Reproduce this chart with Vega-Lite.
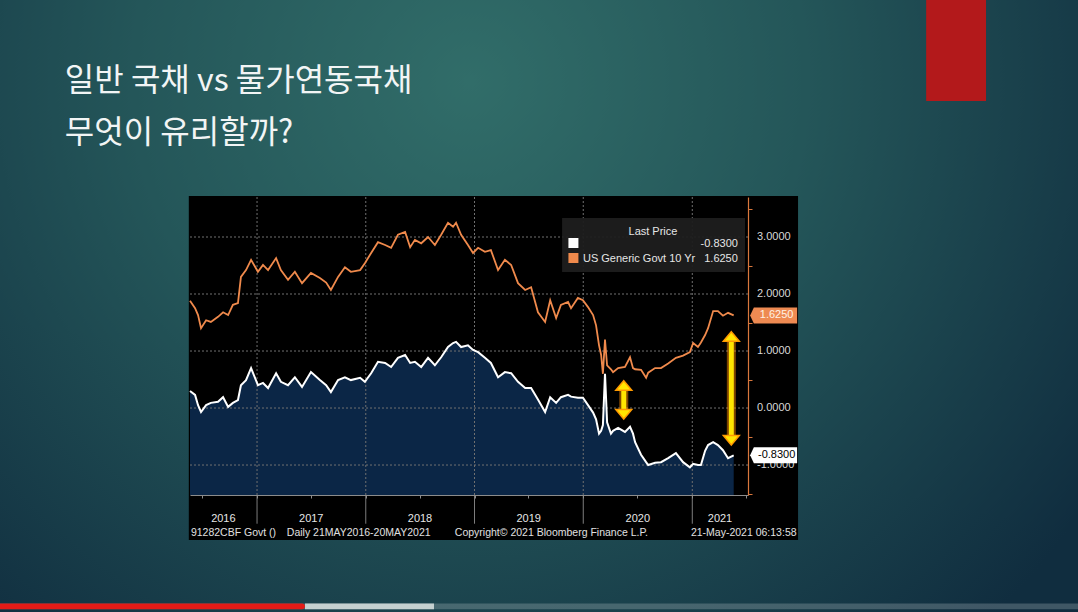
{
"$schema": "https://vega.github.io/schema/vega-lite/v6.json",
"width": 558, "height": 298,
"autosize": {"type": "none"},
"padding": {"left": 190, "top": 197, "right": 330, "bottom": 117},
"background": "#1b4651",
"config": {"view": {"stroke": null}, "font": "Liberation Sans", "axis": {"zindex": 1, "grid": false}},
"datasets": {
"rates": [
{"date":"2016-05-21","nominal":1.88,"real":0.30},
{"date":"2016-06-07","nominal":1.75,"real":0.23},
{"date":"2016-06-17","nominal":1.63,"real":0.05},
{"date":"2016-06-27","nominal":1.40,"real":-0.07},
{"date":"2016-07-14","nominal":1.54,"real":0.05},
{"date":"2016-07-30","nominal":1.51,"real":0.09},
{"date":"2016-08-23","nominal":1.60,"real":0.11},
{"date":"2016-09-09","nominal":1.68,"real":0.19},
{"date":"2016-09-26","nominal":1.63,"real":0.02},
{"date":"2016-10-12","nominal":1.81,"real":0.09},
{"date":"2016-10-29","nominal":1.84,"real":0.14},
{"date":"2016-11-08","nominal":2.30,"real":0.40},
{"date":"2016-11-25","nominal":2.42,"real":0.49},
{"date":"2016-12-12","nominal":2.60,"real":0.70},
{"date":"2017-01-04","nominal":2.39,"real":0.40},
{"date":"2017-01-21","nominal":2.51,"real":0.44},
{"date":"2017-02-07","nominal":2.42,"real":0.35},
{"date":"2017-03-06","nominal":2.63,"real":0.61},
{"date":"2017-03-22","nominal":2.42,"real":0.46},
{"date":"2017-04-15","nominal":2.25,"real":0.40},
{"date":"2017-05-08","nominal":2.39,"real":0.54},
{"date":"2017-06-01","nominal":2.19,"real":0.37},
{"date":"2017-07-01","nominal":2.37,"real":0.63},
{"date":"2017-07-31","nominal":2.28,"real":0.49},
{"date":"2017-08-21","nominal":2.20,"real":0.40},
{"date":"2017-09-06","nominal":2.07,"real":0.28},
{"date":"2017-09-30","nominal":2.30,"real":0.49},
{"date":"2017-10-23","nominal":2.47,"real":0.54},
{"date":"2017-11-12","nominal":2.39,"real":0.49},
{"date":"2017-12-13","nominal":2.42,"real":0.53},
{"date":"2017-12-29","nominal":2.54,"real":0.46},
{"date":"2018-01-19","nominal":2.72,"real":0.61},
{"date":"2018-02-11","nominal":2.91,"real":0.81},
{"date":"2018-03-07","nominal":2.86,"real":0.79},
{"date":"2018-03-27","nominal":2.81,"real":0.72},
{"date":"2018-04-19","nominal":3.04,"real":0.88},
{"date":"2018-05-13","nominal":3.09,"real":0.93},
{"date":"2018-05-30","nominal":2.82,"real":0.79},
{"date":"2018-06-15","nominal":2.95,"real":0.81},
{"date":"2018-07-06","nominal":2.89,"real":0.72},
{"date":"2018-07-29","nominal":3.00,"real":0.88},
{"date":"2018-08-21","nominal":2.86,"real":0.75},
{"date":"2018-09-11","nominal":3.04,"real":0.89},
{"date":"2018-10-04","nominal":3.25,"real":1.07},
{"date":"2018-10-21","nominal":3.18,"real":1.14},
{"date":"2018-10-31","nominal":3.25,"real":1.16},
{"date":"2018-11-17","nominal":3.04,"real":1.07},
{"date":"2018-12-10","nominal":2.86,"real":1.10},
{"date":"2018-12-27","nominal":2.72,"real":1.02},
{"date":"2019-01-13","nominal":2.81,"real":0.98},
{"date":"2019-02-05","nominal":2.74,"real":0.88},
{"date":"2019-02-25","nominal":2.77,"real":0.79},
{"date":"2019-03-21","nominal":2.42,"real":0.54},
{"date":"2019-04-13","nominal":2.60,"real":0.63},
{"date":"2019-05-04","nominal":2.51,"real":0.61},
{"date":"2019-05-27","nominal":2.19,"real":0.46},
{"date":"2019-06-20","nominal":2.07,"real":0.35},
{"date":"2019-07-10","nominal":2.12,"real":0.35},
{"date":"2019-08-02","nominal":1.68,"real":0.15},
{"date":"2019-08-26","nominal":1.51,"real":-0.07},
{"date":"2019-09-12","nominal":1.89,"real":0.19},
{"date":"2019-10-02","nominal":1.58,"real":0.09},
{"date":"2019-10-18","nominal":1.81,"real":0.19},
{"date":"2019-11-11","nominal":1.86,"real":0.23},
{"date":"2019-11-21","nominal":1.75,"real":0.20},
{"date":"2019-12-14","nominal":1.93,"real":0.18},
{"date":"2019-12-31","nominal":1.89,"real":0.18},
{"date":"2020-01-17","nominal":1.77,"real":0.05},
{"date":"2020-02-03","nominal":1.63,"real":-0.08},
{"date":"2020-02-13","nominal":1.45,"real":-0.20},
{"date":"2020-02-23","nominal":1.10,"real":-0.45},
{"date":"2020-03-01","nominal":0.93,"real":-0.40},
{"date":"2020-03-07","nominal":0.60,"real":-0.30},
{"date":"2020-03-14","nominal":1.20,"real":0.60},
{"date":"2020-03-21","nominal":0.75,"real":-0.25},
{"date":"2020-04-03","nominal":0.68,"real":-0.45},
{"date":"2020-04-10","nominal":0.63,"real":-0.40},
{"date":"2020-04-27","nominal":0.70,"real":-0.35},
{"date":"2020-05-20","nominal":0.72,"real":-0.42},
{"date":"2020-06-06","nominal":0.89,"real":-0.33},
{"date":"2020-06-16","nominal":0.70,"real":-0.45},
{"date":"2020-06-23","nominal":0.68,"real":-0.60},
{"date":"2020-07-13","nominal":0.67,"real":-0.82},
{"date":"2020-07-30","nominal":0.53,"real":-0.95},
{"date":"2020-08-06","nominal":0.62,"real":-1.00},
{"date":"2020-08-29","nominal":0.70,"real":-0.96},
{"date":"2020-09-18","nominal":0.70,"real":-0.95},
{"date":"2020-10-12","nominal":0.78,"real":-0.88},
{"date":"2020-11-07","nominal":0.88,"real":-0.79},
{"date":"2020-12-01","nominal":0.92,"real":-0.95},
{"date":"2020-12-24","nominal":0.98,"real":-1.04},
{"date":"2021-01-04","nominal":1.14,"real":-0.98},
{"date":"2021-01-20","nominal":1.07,"real":-1.00},
{"date":"2021-01-30","nominal":1.15,"real":-1.00},
{"date":"2021-02-13","nominal":1.28,"real":-0.75},
{"date":"2021-02-23","nominal":1.40,"real":-0.65},
{"date":"2021-03-12","nominal":1.70,"real":-0.60},
{"date":"2021-03-28","nominal":1.70,"real":-0.65},
{"date":"2021-04-14","nominal":1.62,"real":-0.74},
{"date":"2021-05-01","nominal":1.67,"real":-0.88},
{"date":"2021-05-20","nominal":1.625,"real":-0.83}
],
"yearStarts": [{"d":"2017-01-01"},{"d":"2018-01-01"},{"d":"2019-01-01"},{"d":"2020-01-01"},{"d":"2021-01-01"}],
"yLabels": [{"v":-1,"t":"-1.0000"},{"v":0,"t":"0.0000"},{"v":1,"t":"1.0000"},{"v":2,"t":"2.0000"},{"v":3,"t":"3.0000"}]
},
"layer": [
{"data":{"values":[{}]},
 "mark":{"type":"rect","fill":{"gradient":"radial","x1":0.42,"y1":0.3,"r1":0,"x2":0.42,"y2":0.3,"r2":0.66,"stops":[{"offset":0,"color":"#316d69"},{"offset":0.45,"color":"#245659"},{"offset":1,"color":"#102d3f"}]}},
 "encoding":{"x":{"datum":{"year":2014,"month":8,"date":1},"type":"temporal"},"x2":{"datum":{"year":2025,"month":1,"date":1}},"y":{"datum":7.5,"type":"quantitative"},"y2":{"datum":-4}}},
{"data":{"values":[{}]},
 "mark":{"type":"rect","fill":"#b3191b"},
 "encoding":{"x":{"datum":{"year":2023,"month":2,"date":25},"type":"temporal"},"x2":{"datum":{"year":2023,"month":9,"date":14}},"y":{"datum":7.5,"type":"quantitative"},"y2":{"datum":5.386}}},
{"data":{"values":[{}]},
 "mark":{"type":"rect","fill":"#ffffff","opacity":0.2},
 "encoding":{"x":{"datum":{"year":2014,"month":8,"date":1},"type":"temporal"},"x2":{"datum":{"year":2025,"month":1,"date":1}},"y":{"datum":-3.43,"type":"quantitative"},"y2":{"datum":-3.53}}},
{"data":{"values":[{}]},
 "mark":{"type":"rect","fill":"#c5d0d0"},
 "encoding":{"x":{"datum":{"year":2017,"month":6,"date":11},"type":"temporal"},"x2":{"datum":{"year":2018,"month":8,"date":18}},"y":{"datum":-3.43,"type":"quantitative"},"y2":{"datum":-3.53}}},
{"data":{"values":[{}]},
 "mark":{"type":"rect","fill":"#e41b17","cornerRadius":3},
 "encoding":{"x":{"datum":{"year":2014,"month":8,"date":1},"type":"temporal"},"x2":{"datum":{"year":2017,"month":6,"date":11}},"y":{"datum":-3.43,"type":"quantitative"},"y2":{"datum":-3.53}}},
{"data":{"values":[{}]},
 "mark":{"type":"text","text":"일반 국채 vs 물가연동국채","font":"Noto Sans CJK KR","fontSize":32,"color":"#f2f5f5","align":"left","baseline":"alphabetic"},
 "encoding":{"x":{"datum":{"year":2015,"month":3,"date":28},"type":"temporal"},"y":{"datum":5.561,"type":"quantitative"}}},
{"data":{"values":[{}]},
 "mark":{"type":"text","text":"무엇이 유리할까?","font":"Noto Sans CJK KR","fontSize":32,"color":"#f2f5f5","align":"left","baseline":"alphabetic"},
 "encoding":{"x":{"datum":{"year":2015,"month":3,"date":28},"type":"temporal"},"y":{"datum":4.649,"type":"quantitative"}}},
{"data":{"values":[{}]},
 "mark":{"type":"rect","fill":"#000000"},
 "encoding":{"x":{"datum":{"year":2016,"month":5,"date":17},"type":"temporal"},"x2":{"datum":{"year":2021,"month":12,"date":22}},"y":{"datum":3.72,"type":"quantitative"},"y2":{"datum":-2.316}}},
{"data":{"name":"rates"},
 "mark":{"type":"area","fill":"#0b2646","opacity":1},
 "encoding":{"x":{"field":"date","type":"temporal"},"y":{"field":"real","type":"quantitative"},"y2":{"datum":-1.526}}},
{"data":{"values":[{"v":-1},{"v":0},{"v":1},{"v":2},{"v":3}]},
 "mark":{"type":"rule","color":"#707070","strokeDash":[2,2],"strokeWidth":1},
 "encoding":{"y":{"field":"v","type":"quantitative"}}},
{"data":{"name":"yearStarts"},
 "mark":{"type":"rule","color":"#707070","strokeDash":[2,2],"strokeWidth":1},
 "encoding":{"x":{"field":"d","type":"temporal"}}},
{"data":{"name":"yearStarts"},
 "mark":{"type":"rule","color":"#7d7d7d","strokeWidth":1},
 "encoding":{"x":{"field":"d","type":"temporal"},"y":{"datum":-1.526,"type":"quantitative"},"y2":{"datum":-2.03}}},
{"data":{"name":"rates"},
 "mark":{"type":"line","color":"#f08a4c","strokeWidth":1.8},
 "encoding":{
  "x":{"field":"date","type":"temporal",
   "scale":{"domain":[{"year":2016,"month":5,"date":21},{"year":2021,"month":7,"date":7}]},
   "axis":{"orient":"bottom","title":null,"labels":false,"grid":false,"ticks":true,"tickSize":3,"tickColor":"#8c8c8c","domainColor":"#8c8c8c","domainWidth":1,"zindex":1,
    "values":[{"year":2016,"month":7,"date":1},{"year":2016,"month":10,"date":1},{"year":2017,"month":1,"date":1},{"year":2017,"month":4,"date":1},{"year":2017,"month":7,"date":1},{"year":2017,"month":10,"date":1},{"year":2018,"month":1,"date":1},{"year":2018,"month":4,"date":1},{"year":2018,"month":7,"date":1},{"year":2018,"month":10,"date":1},{"year":2019,"month":1,"date":1},{"year":2019,"month":4,"date":1},{"year":2019,"month":7,"date":1},{"year":2019,"month":10,"date":1},{"year":2020,"month":1,"date":1},{"year":2020,"month":4,"date":1},{"year":2020,"month":7,"date":1},{"year":2020,"month":10,"date":1},{"year":2021,"month":1,"date":1},{"year":2021,"month":4,"date":1},{"year":2021,"month":7,"date":1}]}},
  "y":{"field":"nominal","type":"quantitative",
   "scale":{"domain":[-1.526,3.702],"nice":false,"zero":false},
   "axis":{"orient":"right","title":null,"grid":false,"zindex":1,"labels":false,"values":[-1.5,-1,-0.5,0,0.5,1,1.5,2,2.5,3,3.5],
    "domainColor":"#d9773c","domainWidth":1.2,"tickColor":"#d9773c","tickSize":4}}}},
{"data":{"name":"rates"},
 "mark":{"type":"line","color":"#ffffff","strokeWidth":2},
 "encoding":{"x":{"field":"date","type":"temporal"},"y":{"field":"real","type":"quantitative"}}},
{"data":{"name":"yLabels"},
 "mark":{"type":"text","fontSize":11,"color":"#d8d8d8","align":"left","baseline":"middle","dx":9},
 "encoding":{"x":{"datum":{"year":2021,"month":7,"date":7},"type":"temporal"},"y":{"field":"v","type":"quantitative"},"text":{"field":"t"}}},
{"data":{"values":[{}]},
 "mark":{"type":"rect","fill":"#1e1e1e","opacity":0.95},
 "encoding":{"x":{"datum":{"year":2019,"month":10,"date":22},"type":"temporal"},"x2":{"datum":{"year":2021,"month":6,"date":27}},"y":{"datum":3.333,"type":"quantitative"},"y2":{"datum":2.386}}},
{"data":{"values":[{}]},
 "mark":{"type":"text","text":"Last Price","fontSize":11,"color":"#e6e6e6","align":"center","baseline":"middle"},
 "encoding":{"x":{"datum":{"year":2020,"month":8,"date":22},"type":"temporal"},"y":{"datum":3.088,"type":"quantitative"}}},
{"data":{"values":[{}]},
 "mark":{"type":"point","shape":"square","size":100,"filled":true,"fill":"#ffffff","opacity":1},
 "encoding":{"x":{"datum":{"year":2019,"month":11,"date":29},"type":"temporal"},"y":{"datum":2.895,"type":"quantitative"}}},
{"data":{"values":[{}]},
 "mark":{"type":"point","shape":"square","size":100,"filled":true,"fill":"#f08a4c","opacity":1},
 "encoding":{"x":{"datum":{"year":2019,"month":11,"date":29},"type":"temporal"},"y":{"datum":2.632,"type":"quantitative"}}},
{"data":{"values":[{}]},
 "mark":{"type":"text","text":"-0.8300","fontSize":11,"color":"#e6e6e6","align":"right","baseline":"middle"},
 "encoding":{"x":{"datum":{"year":2021,"month":6,"date":3},"type":"temporal"},"y":{"datum":2.877,"type":"quantitative"}}},
{"data":{"values":[{}]},
 "mark":{"type":"text","text":"US Generic Govt 10 Yr","fontSize":11,"color":"#e6e6e6","align":"left","baseline":"middle"},
 "encoding":{"x":{"datum":{"year":2019,"month":12,"date":31},"type":"temporal"},"y":{"datum":2.614,"type":"quantitative"}}},
{"data":{"values":[{}]},
 "mark":{"type":"text","text":"1.6250","fontSize":11,"color":"#e6e6e6","align":"right","baseline":"middle"},
 "encoding":{"x":{"datum":{"year":2021,"month":6,"date":3},"type":"temporal"},"y":{"datum":2.614,"type":"quantitative"}}},
{"data":{"values":[{"d":"2020-05-16","top":0.395,"bot":-0.109},{"d":"2021-05-12","top":1.255,"bot":-0.565}]},
 "mark":{"type":"rule","color":"#ff8a00","strokeWidth":9,"opacity":0.5},
 "encoding":{"x":{"field":"d","type":"temporal"},"y":{"field":"top","type":"quantitative"},"y2":{"field":"bot"}}},
{"data":{"values":[{"d":"2020-05-16","top":0.395,"bot":-0.109},{"d":"2021-05-12","top":1.255,"bot":-0.565}]},
 "mark":{"type":"rule","color":"#ffe500","strokeWidth":5},
 "encoding":{"x":{"field":"d","type":"temporal"},"y":{"field":"top","type":"quantitative"},"y2":{"field":"bot"}}},
{"data":{"values":[{"d":"2020-05-16","top":0.395,"bot":-0.109},{"d":"2021-05-12","top":1.255,"bot":-0.565}]},
 "mark":{"type":"point","shape":"M0,-0.6L1,0.6L-1,0.6Z","size":256,"filled":true,"fill":"#ffe500","stroke":"#ff9a00","strokeWidth":1.5,"opacity":1},
 "encoding":{"x":{"field":"d","type":"temporal"},"y":{"field":"top","type":"quantitative"}}},
{"data":{"values":[{"d":"2020-05-16","top":0.395,"bot":-0.109},{"d":"2021-05-12","top":1.255,"bot":-0.565}]},
 "mark":{"type":"point","shape":"M0,0.6L1,-0.6L-1,-0.6Z","size":256,"filled":true,"fill":"#ffe500","stroke":"#ff9a00","strokeWidth":1.5,"opacity":1},
 "encoding":{"x":{"field":"d","type":"temporal"},"y":{"field":"bot","type":"quantitative"}}},
{"data":{"values":[{}]},
 "mark":{"type":"point","shape":"M-1,0L-0.84,-0.34L1,-0.34L1,0.34L-0.84,0.34Z","size":2209,"filled":true,"fill":"#ee8a52","strokeWidth":0,"opacity":1},
 "encoding":{"x":{"datum":{"year":2021,"month":10,"date":1},"type":"temporal"},"y":{"datum":1.625,"type":"quantitative"}}},
{"data":{"values":[{}]},
 "mark":{"type":"text","text":"1.6250","fontSize":11,"color":"#fff1e4","align":"center","baseline":"middle","dx":3},
 "encoding":{"x":{"datum":{"year":2021,"month":10,"date":1},"type":"temporal"},"y":{"datum":1.625,"type":"quantitative"}}},
{"data":{"values":[{}]},
 "mark":{"type":"point","shape":"M-1,0L-0.84,-0.34L1,-0.34L1,0.34L-0.84,0.34Z","size":2209,"filled":true,"fill":"#ffffff","strokeWidth":0,"opacity":1},
 "encoding":{"x":{"datum":{"year":2021,"month":10,"date":1},"type":"temporal"},"y":{"datum":-0.83,"type":"quantitative"}}},
{"data":{"values":[{}]},
 "mark":{"type":"text","text":"-0.8300","fontSize":11,"color":"#000000","align":"center","baseline":"middle","dx":3},
 "encoding":{"x":{"datum":{"year":2021,"month":10,"date":1},"type":"temporal"},"y":{"datum":-0.83,"type":"quantitative"}}},
{"data":{"values":[{"d":"2016-09-10","label":"2016"},{"d":"2017-07-02","label":"2017"},{"d":"2018-07-02","label":"2018"},{"d":"2019-07-02","label":"2019"},{"d":"2020-07-02","label":"2020"},{"d":"2021-04-04","label":"2021"}]},
 "mark":{"type":"text","fontSize":11,"color":"#e6e6e6","align":"center","baseline":"middle"},
 "encoding":{"x":{"field":"d","type":"temporal"},"y":{"datum":-1.947,"type":"quantitative"},"text":{"field":"label"}}},
{"data":{"values":[{}]},
 "mark":{"type":"text","text":"91282CBF Govt ()","fontSize":10.5,"color":"#e0e0e0","align":"left","baseline":"middle"},
 "encoding":{"x":{"datum":{"year":2016,"month":5,"date":24},"type":"temporal"},"y":{"datum":-2.193,"type":"quantitative"}}},
{"data":{"values":[{}]},
 "mark":{"type":"text","text":"Daily 21MAY2016-20MAY2021","fontSize":10.5,"color":"#e0e0e0","align":"left","baseline":"middle"},
 "encoding":{"x":{"datum":{"year":2017,"month":4,"date":11},"type":"temporal"},"y":{"datum":-2.193,"type":"quantitative"}}},
{"data":{"values":[{}]},
 "mark":{"type":"text","text":"Copyright© 2021 Bloomberg Finance L.P.","fontSize":10.5,"color":"#e0e0e0","align":"left","baseline":"middle"},
 "encoding":{"x":{"datum":{"year":2018,"month":10,"date":27},"type":"temporal"},"y":{"datum":-2.193,"type":"quantitative"}}},
{"data":{"values":[{}]},
 "mark":{"type":"text","text":"21-May-2021 06:13:58","fontSize":10.5,"color":"#e0e0e0","align":"right","baseline":"middle"},
 "encoding":{"x":{"datum":{"year":2021,"month":12,"date":17},"type":"temporal"},"y":{"datum":-2.193,"type":"quantitative"}}}
]
}
